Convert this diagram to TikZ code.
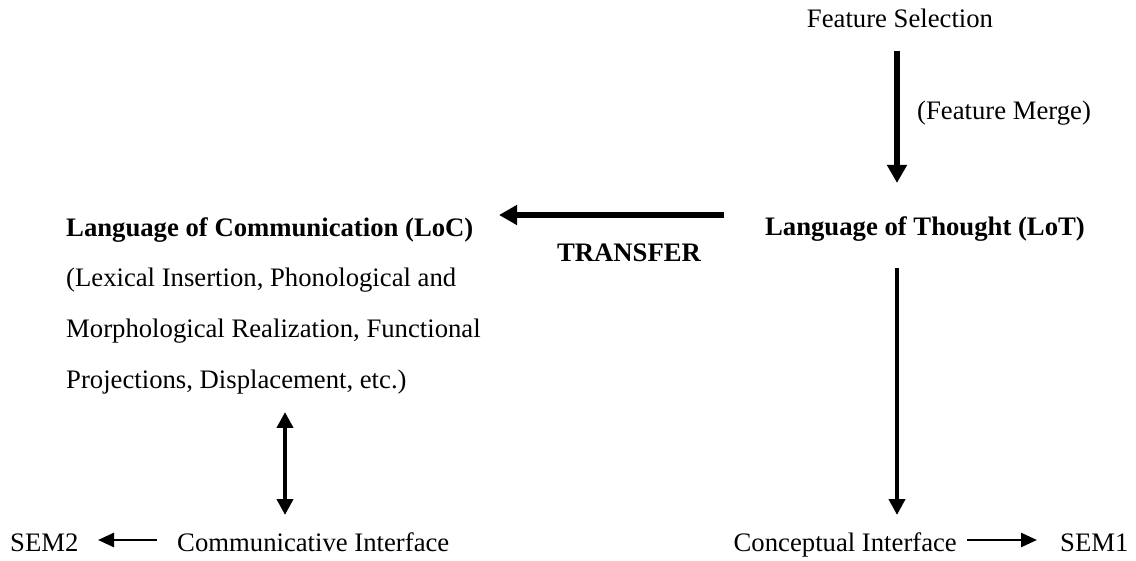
\documentclass[tikz,border=0pt]{standalone}
\usepackage{fontspec}
\setmainfont{Liberation Serif}
\usetikzlibrary{arrows.meta}
\begin{document}
\begin{tikzpicture}[x=1pt,y=-1pt,
  txt/.style={inner sep=0pt,font=\fontsize{26.7}{32}\selectfont},
  btxt/.style={txt,font=\fontsize{26.7}{32}\selectfont\bfseries},
  thick arrow/.style={line width=6.5pt,-{Triangle[width=19pt,length=18pt]}},
  long arrow/.style={line width=4.5pt,-{Triangle[width=16pt,length=16pt]}},
  dbl arrow/.style={line width=4.5pt,{Triangle[width=16pt,length=16pt]}-{Triangle[width=16pt,length=16pt]}},
  thin arrow/.style={line width=2.5pt,-{Triangle[width=14pt,length=16pt]}}]
\useasboundingbox (0,0) rectangle (1136,561);
% texts
\node[txt,anchor=base] (fs) at (900,28) {Feature Selection};
\node[txt,anchor=base west] (fm) at (917,120) {(Feature Merge)};
\node[btxt,anchor=base] (lot) at (925,236) {Language of Thought (LoT)};
\node[btxt,anchor=base west] (loc) at (66,237) {Language of Communication (LoC)};
\node[btxt,anchor=base] (tr) at (629,262) {TRANSFER};
\node[txt,anchor=base west] (l1) at (66,287) {(Lexical Insertion, Phonological and};
\node[txt,anchor=base west] (l2) at (66,338) {Morphological Realization, Functional};
\node[txt,anchor=base west] (l3) at (66,389) {Projections, Displacement, etc.)};
\node[txt,anchor=base west] (sem2) at (10,551) {SEM2};
\node[txt,anchor=base west] (ci) at (177,551) {Communicative Interface};
\node[txt,anchor=base east] (cpi) at (957,551) {Conceptual Interface};
\node[txt,anchor=base west] (sem1) at (1060,551) {SEM1};
% arrow ends
\coordinate (a1s) at (897,51);
\coordinate (a1e) at (897,183);
\coordinate (a2s) at (724,215);
\coordinate (a2e) at (499,215);
\coordinate (a3s) at (897,268);
\coordinate (a3e) at (897,515);
\coordinate (a4s) at (285,412);
\coordinate (a4e) at (285,515);
\coordinate (a5s) at (157,540);
\coordinate (a5e) at (98,540);
\coordinate (a6s) at (967,540);
\coordinate (a6e) at (1037,540);
% connectors
\draw[thick arrow] (a1s) -- (a1e);
\draw[thick arrow] (a2s) -- (a2e);
\draw[long arrow] (a3s) -- (a3e);
\draw[dbl arrow] (a4s) -- (a4e);
\draw[thin arrow] (a5s) -- (a5e);
\draw[thin arrow] (a6s) -- (a6e);
\end{tikzpicture}
\end{document}
